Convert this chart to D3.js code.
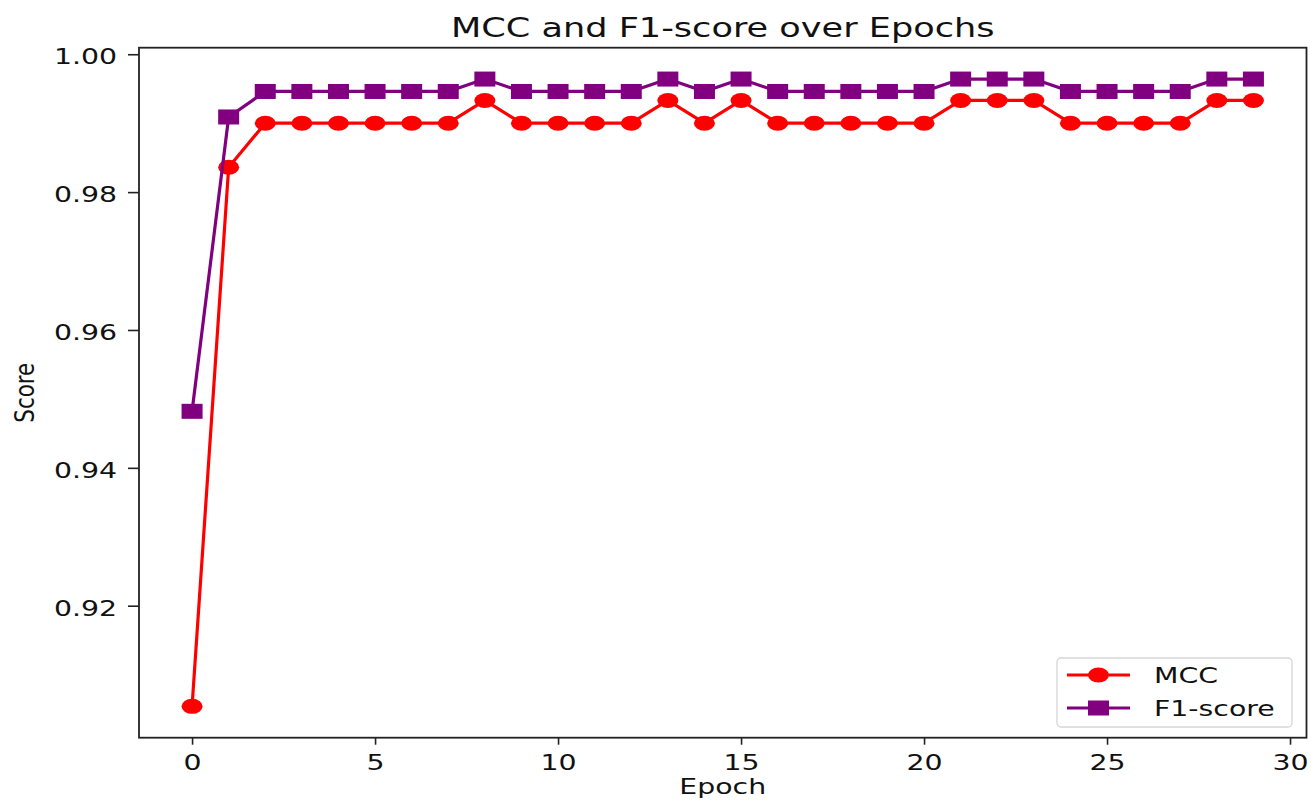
<!DOCTYPE html>
<html>
<head>
<meta charset="utf-8">
<script src="https://cdn.jsdelivr.net/npm/d3@7"></script>
<style>
  html, body { margin: 0; padding: 0; background: #fff; }
  svg { display: block; }
  text { font-family: "DejaVu Sans", sans-serif; fill: #111; }
</style>
</head>
<body>
<script>
// ---- data ----
const epochs = [0,1,2,3,4,5,6,7,8,9,10,11,12,13,14,15,16,17,18,19,20,21,22,23,24,25,26,27,28,29];
const mcc = [0.9054,0.9836,0.9900,0.9900,0.9900,0.9900,0.9900,0.9900,0.9933,0.9900,
             0.9900,0.9900,0.9900,0.9933,0.9900,0.9933,0.9900,0.9900,0.9900,0.9900,
             0.9900,0.9933,0.9933,0.9933,0.9900,0.9900,0.9900,0.9900,0.9933,0.9933];
const f1  = [0.9482,0.9909,0.9946,0.9946,0.9946,0.9946,0.9946,0.9946,0.9964,0.9946,
             0.9946,0.9946,0.9946,0.9964,0.9946,0.9964,0.9946,0.9946,0.9946,0.9946,
             0.9946,0.9964,0.9964,0.9964,0.9946,0.9946,0.9946,0.9946,0.9964,0.9964];
const xTicks = [0,5,10,15,20,25,30];
const yTicks = [0.92,0.94,0.96,0.98,1.00];
const seriesNames = ["MCC","F1-score"];
const titleText = "MCC and F1-score over Epochs";
const xLabel = "Epoch";
const yLabel = "Score";

// ---- layout ----
const W = 1311, H = 801;
const L = 139, R = 1306.5, T = 47.7, B = 737.7;
const SX = 1.35; // horizontal stretch of the original image
const red = "#ff0000", purple = "#800080";

const svg = d3.select("body").append("svg").attr("width", W).attr("height", H);

const allVals = mcc.concat(f1);
const vmin = d3.min(allVals), vmax = d3.max(allVals), vr = vmax - vmin;
const xmin = d3.min(epochs), xmax = d3.max(epochs), xr = xmax - xmin;
const x = d3.scaleLinear().domain([xmin - 0.05*xr, xmax + 0.05*xr]).range([L, R]);
const y = d3.scaleLinear().domain([vmin - 0.05*vr, vmax + 0.05*vr]).range([B, T]);

function stretch(sel, k) {
  sel.each(function() {
    const len = this.getComputedTextLength();
    d3.select(this).attr("textLength", len * k).attr("lengthAdjust", "spacingAndGlyphs");
  });
}

// axes
const xAxis = svg.append("g").attr("transform", `translate(0,${B})`)
  .call(d3.axisBottom(x).tickValues(xTicks).tickFormat(d3.format("d")).tickSize(7).tickPadding(0));
xAxis.select(".domain").remove();
xAxis.selectAll("line").attr("stroke", "#222").attr("stroke-width", 1.6);
xAxis.selectAll("text").attr("y", 32).attr("dy", null).attr("font-size", 21).attr("fill", "#111")
  .attr("font-family", "DejaVu Sans");
stretch(xAxis.selectAll("text"), SX);

const yAxis = svg.append("g").attr("transform", `translate(${L},0)`)
  .call(d3.axisLeft(y).tickValues(yTicks).tickFormat(d3.format(".2f")).tickSize(11));
yAxis.select(".domain").remove();
yAxis.selectAll("line").attr("stroke", "#222").attr("stroke-width", 1.6);
yAxis.selectAll("text").attr("x", -22).attr("dy", "0.45em").attr("font-size", 21).attr("fill", "#111")
  .attr("font-family", "DejaVu Sans");
stretch(yAxis.selectAll("text"), SX);

// frame
svg.append("rect").attr("x", L).attr("y", T).attr("width", R - L).attr("height", B - T)
  .attr("fill", "none").attr("stroke", "#222").attr("stroke-width", 1.8);

// series
const series = [
  {name: seriesNames[0], vals: mcc, color: red, shape: "circle"},
  {name: seriesNames[1], vals: f1, color: purple, shape: "square"}
];
const line = d3.line().x(d => x(d[0])).y(d => y(d[1]));

function marker(g, shape, color, cx, cy) {
  if (shape === "circle") {
    g.append("ellipse").attr("cx", cx).attr("cy", cy).attr("rx", 10.5).attr("ry", 7.5).attr("fill", color);
  } else {
    g.append("rect").attr("x", cx - 10.5).attr("y", cy - 7.5).attr("width", 21).attr("height", 15).attr("fill", color);
  }
}

series.forEach(s => {
  const pts = epochs.map((e, i) => [e, s.vals[i]]);
  svg.append("path").datum(pts).attr("d", line).attr("fill", "none")
    .attr("stroke", s.color).attr("stroke-width", 3.2).attr("stroke-linejoin", "round");
  const g = svg.append("g");
  pts.forEach(p => marker(g, s.shape, s.color, x(p[0]), y(p[1])));
});

// title
const t = svg.append("text").attr("x", (L + R) / 2).attr("y", 37).attr("text-anchor", "middle")
  .attr("font-size", 26).text(titleText);
stretch(t, SX);

// x label
const xl = svg.append("text").attr("x", (L + R) / 2).attr("y", 794).attr("text-anchor", "middle")
  .attr("font-size", 21).text(xLabel);
stretch(xl, SX);

// y label
svg.append("text").attr("transform", `translate(34,${(T + B) / 2}) rotate(-90)`)
  .attr("text-anchor", "middle").attr("font-size", 27)
  .attr("font-family", "Liberation Sans Narrow, Liberation Sans, sans-serif")
  .attr("textLength", 60).attr("lengthAdjust", "spacingAndGlyphs")
  .text(yLabel);

// legend
const lg = svg.append("g");
lg.append("rect").attr("x", 1057).attr("y", 658).attr("width", 235).attr("height", 69)
  .attr("rx", 4).attr("fill", "#fff").attr("fill-opacity", 0.8).attr("stroke", "#d6d6d6").attr("stroke-width", 1.3);
series.forEach((s, i) => {
  const cy = 675 + i * 33;
  lg.append("line").attr("x1", 1067).attr("x2", 1130).attr("y1", cy).attr("y2", cy)
    .attr("stroke", s.color).attr("stroke-width", 3.2);
  marker(lg, s.shape, s.color, 1098.5, cy);
  const tt = lg.append("text").attr("x", 1154).attr("y", cy + 8).attr("font-size", 21).text(s.name);
  stretch(tt, SX);
});
</script>
</body>
</html>
